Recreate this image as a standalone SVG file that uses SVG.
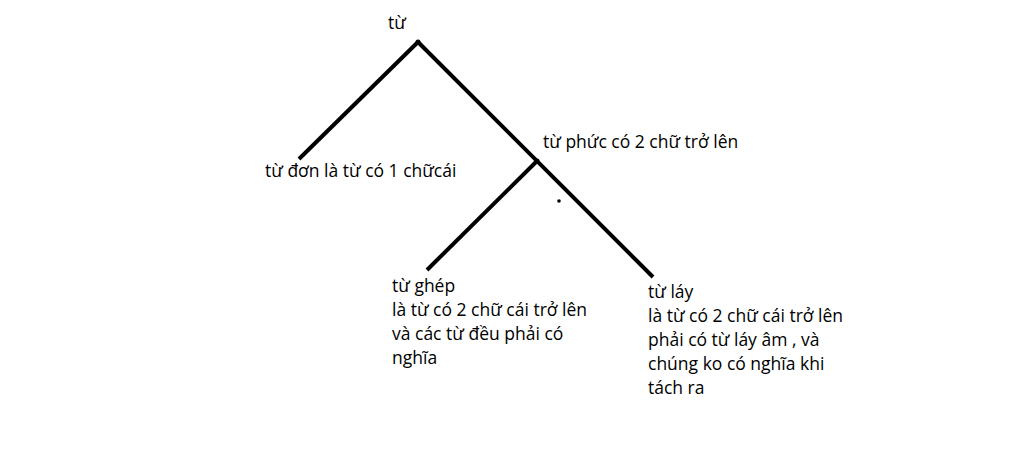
<svg xmlns="http://www.w3.org/2000/svg" width="1024" height="453" viewBox="0 0 1024 453">
<style>
text{font-family:"Open Sans","Noto Sans","DejaVu Sans",sans-serif;font-size:17.5px;fill:#000}
.edge{stroke:#000;stroke-width:4;stroke-linecap:butt;fill:none}
</style>
<rect width="1024" height="453" fill="#fff"/>
<g id="connectors">
<line class="edge" x1="418" y1="42" x2="299" y2="159"/>
<line class="edge" x1="418" y1="42" x2="653" y2="277"/>
<line class="edge" x1="537" y1="161" x2="427" y2="270"/>
<circle cx="418" cy="42" r="2.5" fill="#000"/>
<circle cx="537" cy="161" r="2.5" fill="#000"/>
<circle cx="559" cy="201" r="1.8" fill="#000"/>
</g>
<g id="node-tu"><text x="388" y="29">từ</text></g>
<g id="node-tudon"><text x="265" y="177">từ đơn là từ có 1 chữcái</text></g>
<g id="node-tuphuc"><text x="543" y="148">từ phức có 2 chữ trở lên</text></g>
<g id="node-tughep">
<text x="392" y="292">từ ghép</text>
<text x="392" y="316">là từ có 2 chữ cái trở lên</text>
<text x="392" y="340">và các từ đều phải có</text>
<text x="392" y="364">nghĩa</text>
</g>
<g id="node-tulay">
<text x="648" y="298">từ láy</text>
<text x="648" y="322">là từ có 2 chữ cái trở lên</text>
<text x="648" y="346">phải có từ láy âm , và</text>
<text x="648" y="370">chúng ko có nghĩa khi</text>
<text x="648" y="394">tách ra</text>
</g>
</svg>
